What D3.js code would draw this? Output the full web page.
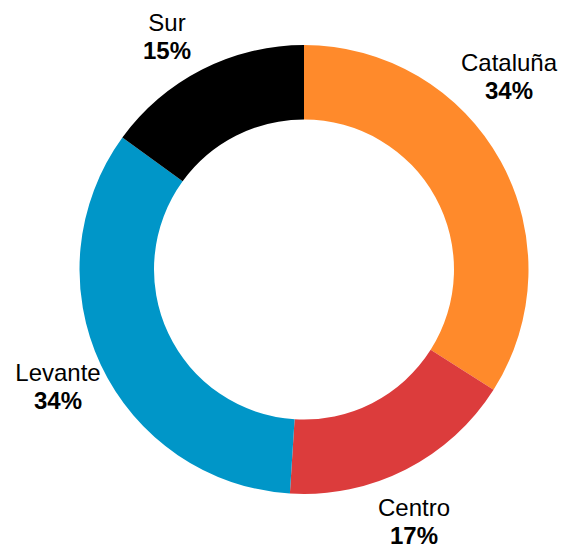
<!DOCTYPE html>
<html>
<head>
<meta charset="utf-8">
<script src="https://cdn.jsdelivr.net/npm/d3@7/dist/d3.min.js"></script>
<style>
  html, body { margin: 0; padding: 0; background: #fff; }
  svg { display: block; }
  text { font-family: "Liberation Sans", Arial, sans-serif; font-size: 24px; fill: #000; }
</style>
</head>
<body>
<svg id="chart" width="565" height="548"></svg>
<script>
// Regional shares
const regions = ["Cataluña", "Centro", "Levante", "Sur"];
const shares = [34, 17, 34, 15];
const colors = ["#FF8A2B", "#DC3C3C", "#0096C8", "#000000"];
// Label anchor points (baseline of the region name)
const labelX = [509, 414, 58, 167];
const labelY = [71, 516, 381, 31];

const svg = d3.select("#chart");
const cx = 304, cy = 269.5;
const outerR = 224.5, innerR = 150;

const data = regions.map((r, i) => ({ region: r, value: shares[i], color: colors[i], lx: labelX[i], ly: labelY[i] }));

const pie = d3.pie().value(d => d.value).sort(null);
const arc = d3.arc().innerRadius(innerR).outerRadius(outerR);

const g = svg.append("g").attr("transform", `translate(${cx},${cy})`);
g.selectAll("path")
  .data(pie(data))
  .join("path")
  .attr("d", arc)
  .attr("fill", d => d.data.color);

const labels = svg.append("g").selectAll("text")
  .data(data)
  .join("text")
  .attr("text-anchor", "middle")
  .attr("x", d => d.lx)
  .attr("y", d => d.ly);

labels.append("tspan")
  .attr("x", d => d.lx)
  .text(d => d.region);
labels.append("tspan")
  .attr("x", d => d.lx)
  .attr("dy", 28)
  .attr("font-weight", "bold")
  .text(d => d.value + "%");
</script>
</body>
</html>
